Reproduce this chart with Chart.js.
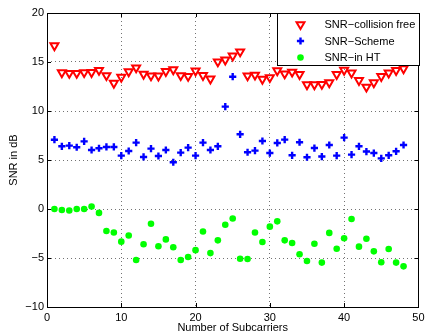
<!DOCTYPE html>
<html>
<head>
<meta charset="utf-8">
<script src="https://cdn.jsdelivr.net/npm/chart.js@4.4.1/dist/chart.umd.min.js"></script>
<style>
  html, body { margin: 0; padding: 0; background: #fff; }
  #wrap { width: 425px; height: 336px; }
</style>
</head>
<body>
<div id="wrap"><canvas id="Chart" width="425" height="336"></canvas></div>
<script>
var subcarriers = [1, 2, 3, 4, 5, 6, 7, 8, 9, 10, 11, 12, 13, 14, 15, 16, 17, 18, 19, 20, 21, 22, 23, 24,
  25, 26, 27, 28, 29, 30, 31, 32, 33, 34, 35, 36, 37, 38, 39, 40, 41, 42, 43, 44, 45, 46, 47, 48];

var snrCollisionFree = [16.68, 13.92, 13.85, 13.85, 13.93, 13.95, 14.16, 13.63, 12.85, 13.46, 14.02, 14.42,
  13.77, 13.6, 13.58, 14.04, 14.22, 13.63, 13.55, 14.1, 13.64, 13.28, 15.03, 15.22,
  15.63, 16.05, 13.6, 13.68, 13.25, 13.42, 14.12, 13.8, 13.98, 13.74, 12.69, 12.69,
  12.73, 12.9, 13.74, 14.18, 13.9, 13.13, 12.45, 12.9, 13.54, 13.9, 14.15, 14.32];

var snrScheme = [7.07, 6.4, 6.47, 6.3, 6.9, 6.02, 6.2, 6.33, 6.33, 5.45, 5.92, 6.77,
  5.31, 6.16, 5.41, 6.02, 4.77, 5.75, 6.26, 5.45, 6.77, 6.02, 6.4, 10.45,
  13.5, 7.62, 5.79, 5.96, 6.94, 5.71, 6.74, 7.08, 5.48, 6.81, 5.28, 6.22,
  5.35, 6.53, 5.45, 7.28, 5.55, 6.4, 5.86, 5.71, 5.17, 5.48, 5.89, 6.53];

var snrInHT = [0.0, -0.1, -0.15, 0.0, 0.0, 0.25, -0.4, -2.24, -2.4, -3.33, -2.7, -5.2,
  -3.6, -1.5, -3.8, -3.1, -3.9, -5.2, -4.9, -4.2, -2.3, -4.5, -3.2, -1.6,
  -0.97, -5.07, -5.1, -2.4, -3.36, -1.8, -1.26, -3.2, -3.47, -4.62, -5.3, -3.54,
  -5.47, -2.44, -4.05, -2.99, -1.02, -3.84, -3.03, -4.32, -5.44, -4.08, -5.47, -5.85];

var seriesNames = ['SNR\u2212collision free', 'SNR\u2212Scheme', 'SNR\u2212in HT'];

var xTicks = [0, 10, 20, 30, 40, 50];
var yTicks = [-10, -5, 0, 5, 10, 15, 20];

var FONT = '"Liberation Sans", Arial, Helvetica, sans-serif';

function toPoints(xs, ys) {
  return xs.map(function (x, i) { return { x: x, y: ys[i] }; });
}

function minus(v) {
  return String(v).replace('-', '\u2212');
}

// matlab style frame, inward ticks and boxed legend
var matlabFrame = {
  id: 'matlabFrame',
  afterDatasetsDraw: function (chart) {
    var ctx = chart.ctx;
    var a = chart.chartArea;
    var xs = chart.scales.x, ys = chart.scales.y;
    var tl = 4;

    ctx.save();
    ctx.strokeStyle = '#000';
    ctx.lineWidth = 1;
    ctx.setLineDash([]);
    ctx.beginPath();
    xTicks.forEach(function (t) {
      var px = Math.round(xs.getPixelForValue(t)) + 0.5;
      ctx.moveTo(px, a.bottom); ctx.lineTo(px, a.bottom - tl);
      ctx.moveTo(px, a.top); ctx.lineTo(px, a.top + tl);
    });
    yTicks.forEach(function (t) {
      var py = Math.round(ys.getPixelForValue(t)) + 0.5;
      ctx.moveTo(a.left, py); ctx.lineTo(a.left + tl, py);
      ctx.moveTo(a.right, py); ctx.lineTo(a.right - tl, py);
    });
    ctx.stroke();
    ctx.strokeRect(Math.round(a.left) + 0.5, Math.round(a.top) + 0.5,
      Math.round(a.right - a.left), Math.round(a.bottom - a.top));

    // legend box
    var bx = Math.round(a.right) - 141 + 0.5, by = Math.round(a.top) + 0.5;
    var bw = 142, bh = 52;
    ctx.fillStyle = '#fff';
    ctx.fillRect(bx, by, bw, bh);
    ctx.strokeRect(bx, by, bw, bh);

    ctx.font = '11px ' + FONT;
    ctx.textBaseline = 'middle';
    ctx.textAlign = 'left';
    chart.data.datasets.forEach(function (ds, i) {
      var ry = by + 11 + i * 16.5;
      ctx.save();
      ctx.strokeStyle = ds.borderColor;
      ctx.fillStyle = ds.backgroundColor;
      ctx.lineWidth = ds.borderWidth;
      Chart.helpers.drawPoint(ctx, {
        pointStyle: ds.pointStyle,
        rotation: ds.rotation || 0,
        radius: ds.pointRadius,
        borderWidth: ds.borderWidth
      }, bx + 23, ry);
      ctx.restore();
      ctx.fillStyle = '#000';
      ctx.fillText(ds.label, bx + 47, ry + 0.5);
    });
    ctx.restore();
  }
};

document.addEventListener('DOMContentLoaded', function () {
  var ctx = document.getElementById('Chart').getContext('2d');

  var myChart = new Chart(ctx, {
    type: 'scatter',
    data: {
      datasets: [{
        label: seriesNames[0],
        data: toPoints(subcarriers, snrCollisionFree),
        pointStyle: 'triangle',
        rotation: 180,
        pointRadius: 4.6,
        pointHoverRadius: 4.6,
        borderColor: '#ff0000',
        backgroundColor: 'rgba(0,0,0,0)',
        borderWidth: 2
      }, {
        label: seriesNames[1],
        data: toPoints(subcarriers, snrScheme),
        pointStyle: 'cross',
        pointRadius: 3.6,
        pointHoverRadius: 3.6,
        borderColor: '#0000ff',
        backgroundColor: '#0000ff',
        borderWidth: 2.4
      }, {
        label: seriesNames[2],
        data: toPoints(subcarriers, snrInHT),
        pointStyle: 'circle',
        pointRadius: 3.3,
        pointHoverRadius: 3.3,
        borderColor: '#00ff00',
        backgroundColor: '#00ff00',
        borderWidth: 0
      }]
    },
    options: {
      responsive: false,
      animation: false,
      events: [],
      layout: { padding: { top: 13, right: 5, left: 0, bottom: 0 } },
      plugins: {
        legend: { display: false },
        tooltip: { enabled: false }
      },
      scales: {
        x: {
          type: 'linear',
          min: 0,
          max: 50,
          afterBuildTicks: function (scale) {
            scale.ticks = xTicks.map(function (v) { return { value: v }; });
          },
          afterFit: function (scale) {
            scale.height = 29;
            scale.paddingLeft = 0;
            scale.paddingRight = 0;
          },
          grid: { color: 'rgba(0,0,0,0.55)', lineWidth: 1, drawTicks: false },
          border: { display: false, dash: [1, 3] },
          ticks: {
            padding: 4,
            maxRotation: 0,
            color: '#000',
            font: { family: FONT, size: 11 },
            callback: function (v) { return minus(v); }
          },
          title: {
            display: true,
            text: 'Number of Subcarriers',
            color: '#000',
            font: { family: FONT, size: 11 },
            padding: { top: 0, bottom: 1 }
          }
        },
        y: {
          type: 'linear',
          min: -10,
          max: 20,
          afterBuildTicks: function (scale) {
            scale.ticks = yTicks.map(function (v) { return { value: v }; });
          },
          afterFit: function (scale) {
            scale.width = 47;
          },
          grid: { color: 'rgba(0,0,0,0.55)', lineWidth: 1, drawTicks: false },
          border: { display: false, dash: [1, 3] },
          ticks: {
            padding: 3,
            color: '#000',
            font: { family: FONT, size: 11 },
            callback: function (v) { return minus(v); }
          },
          title: {
            display: true,
            text: 'SNR in dB',
            color: '#000',
            font: { family: FONT, size: 11 },
            padding: { top: 7, bottom: 0 }
          }
        }
      }
    },
    plugins: [matlabFrame]
  });
});
</script>
</body>
</html>
